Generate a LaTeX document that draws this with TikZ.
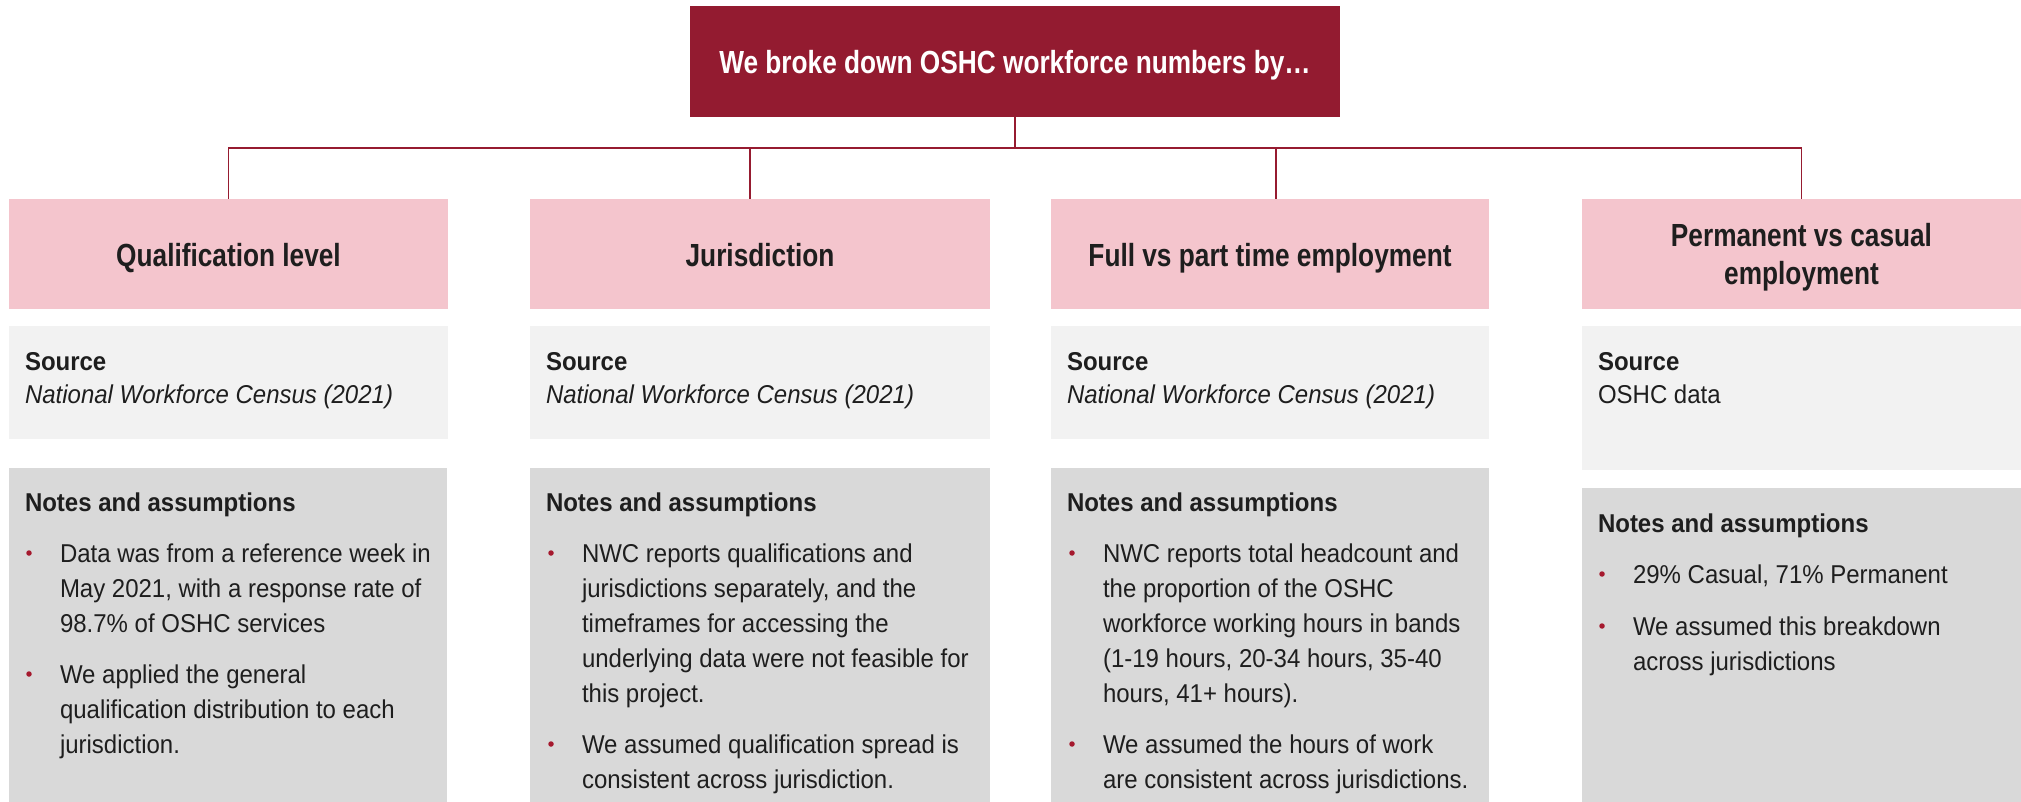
\documentclass[tikz,border=0pt]{standalone}
\usepackage{fontspec}
\setmainfont{Liberation Sans}
\newfontfamily\headfont[FakeStretch=0.82]{Liberation Sans}
\newfontfamily\bodyfont[FakeStretch=0.93]{Liberation Sans}

\definecolor{titlered}{RGB}{147,27,48}
\definecolor{linered}{RGB}{150,27,48}
\definecolor{pinkfill}{RGB}{244,197,205}
\definecolor{srcfill}{RGB}{242,242,242}
\definecolor{notefill}{RGB}{217,217,217}
\definecolor{ink}{RGB}{30,30,30}
\definecolor{dotred}{RGB}{165,25,46}

\tikzset{
  every node/.style={inner sep=0pt, outer sep=0pt},
  panel/.style={rectangle, anchor=north west, draw=none},
  titlebox/.style={panel, fill=titlered},
  pinkbox/.style={panel, fill=pinkfill},
  srcbox/.style={panel, fill=srcfill},
  notebox/.style={panel, fill=notefill},
  conn/.style={draw=linered, line width=1.8pt},
  titletext/.style={font=\headfont\bfseries\fontsize{32}{37}\selectfont, text=white},
  headtext/.style={font=\headfont\bfseries\fontsize{32}{37}\selectfont, text=ink, align=center},
  labeltext/.style={font=\bodyfont\bfseries\fontsize{25.8}{35.2}\selectfont, text=ink, anchor=base west},
  bodytext/.style={font=\bodyfont\fontsize{25.8}{35.2}\selectfont, text=ink, anchor=base west},
  bulletdot/.style={circle, fill=dotred, minimum size=5.5pt}
}

% one bullet point: name, text x, first baseline, lines
\newcommand{\noteitem}[4]{%
  \node[bulletdot] (#1dot) at (#2-31,#3-9) {};
  \node[bodytext] (#1) at (#2,#3) {\parbox[t]{420pt}{#4}};
}

\begin{document}
\begin{tikzpicture}[x=1pt, y=-1pt]
\useasboundingbox (0,0) rectangle (2021,802);

% title
\node[titlebox, minimum width=650pt, minimum height=111pt] (top) at (690,6) {};
\node[titletext, anchor=base] (toptext) at (1015,74) {We broke down OSHC workforce numbers by…};

% category headers
\node[pinkbox, minimum width=439pt, minimum height=110pt] (h1) at (9,199) {};
\node[pinkbox, minimum width=460pt, minimum height=110pt] (h2) at (530,199) {};
\node[pinkbox, minimum width=438pt, minimum height=110pt] (h3) at (1051,199) {};
\node[pinkbox, minimum width=439pt, minimum height=110pt] (h4) at (1582,199) {};

\node[headtext, anchor=base] (h1t) at (228.5,267) {Qualification level};
\node[headtext, anchor=base] (h2t) at (760,267) {Jurisdiction};
\node[headtext, anchor=base] (h3t) at (1270,267) {Full vs part time employment};
\node[headtext, anchor=base] (h4ta) at (1801.5,247) {Permanent vs casual};
\node[headtext, anchor=base] (h4tb) at (1801.5,285) {employment};

% connectors
\coordinate (bus) at (1015,148);
\coordinate (j2) at (750,199);
\coordinate (j3) at (1276,199);
\draw[conn] (top.south) -- (bus);
\draw[conn] (bus) -| (h1.north);
\draw[conn] (bus) -| (j2);
\draw[conn] (bus) -| (j3);
\draw[conn] (bus) -| (h4.north);

% sources
\node[srcbox, minimum width=439pt, minimum height=113pt] (s1) at (9,326) {};
\node[srcbox, minimum width=460pt, minimum height=113pt] (s2) at (530,326) {};
\node[srcbox, minimum width=438pt, minimum height=113pt] (s3) at (1051,326) {};
\node[srcbox, minimum width=439pt, minimum height=144pt] (s4) at (1582,326) {};

\node[labeltext] (s1a) at (25,370) {Source};
\node[bodytext] (s1b) at (25,403) {\itshape National Workforce Census (2021)};
\node[labeltext] (s2a) at (546,370) {Source};
\node[bodytext] (s2b) at (546,403) {\itshape National Workforce Census (2021)};
\node[labeltext] (s3a) at (1067,370) {Source};
\node[bodytext] (s3b) at (1067,403) {\itshape National Workforce Census (2021)};
\node[labeltext] (s4a) at (1598,370) {Source};
\node[bodytext] (s4b) at (1598,403) {OSHC data};

% notes and assumptions
\node[notebox, minimum width=438pt, minimum height=334pt] (n1) at (9,468) {};
\node[notebox, minimum width=460pt, minimum height=334pt] (n2) at (530,468) {};
\node[notebox, minimum width=438pt, minimum height=334pt] (n3) at (1051,468) {};
\node[notebox, minimum width=439pt, minimum height=314pt] (n4) at (1582,488) {};

\node[labeltext] (n1h) at (25,511) {Notes and assumptions};
\node[labeltext] (n2h) at (546,511) {Notes and assumptions};
\node[labeltext] (n3h) at (1067,511) {Notes and assumptions};
\node[labeltext] (n4h) at (1598,532) {Notes and assumptions};

\noteitem{n1i}{60}{562}{Data was from a reference week in\\May 2021, with a response rate of\\98.7\% of OSHC services}
\noteitem{n1ii}{60}{683}{We applied the general\\qualification distribution to each\\jurisdiction.}

\noteitem{n2i}{582}{562}{NWC reports qualifications and\\jurisdictions separately, and the\\timeframes for accessing the\\underlying data were not feasible for\\this project.}
\noteitem{n2ii}{582}{753}{We assumed qualification spread is\\consistent across jurisdiction.}

\noteitem{n3i}{1103}{562}{NWC reports total headcount and\\the proportion of the OSHC\\workforce working hours in bands\\(1-19 hours, 20-34 hours, 35-40\\hours, 41+ hours).}
\noteitem{n3ii}{1103}{753}{We assumed the hours of work\\are consistent across jurisdictions.}

\noteitem{n4i}{1633}{583}{29\% Casual, 71\% Permanent}
\noteitem{n4ii}{1633}{635}{We assumed this breakdown\\across jurisdictions}

\end{tikzpicture}
\end{document}
